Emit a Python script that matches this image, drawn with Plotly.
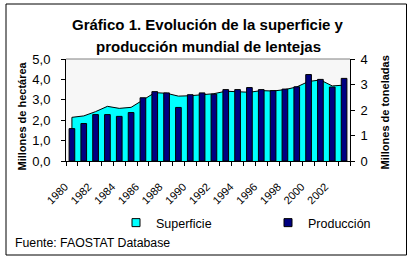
import plotly.graph_objects as go

years = list(range(1980, 2004))
superficie = [2.14, 2.21, 2.42, 2.68, 2.58, 2.63, 3.00, 3.35, 3.32, 3.18, 3.20, 3.25,
              3.30, 3.42, 3.38, 3.37, 3.45, 3.43, 3.50, 3.63, 3.90, 3.97, 3.68, 3.72]
produccion = [1.27, 1.47, 1.82, 1.82, 1.75, 1.90, 2.48, 2.72, 2.67, 2.10, 2.60, 2.67,
              2.62, 2.80, 2.80, 2.88, 2.80, 2.76, 2.82, 2.91, 3.39, 3.20, 2.90, 3.24]
tick_years = years[::2][:12]
tick_labels = [str(y) for y in tick_years]
left_ticks = [0, 1, 2, 3, 4, 5]
right_ticks = [0, 1, 2, 3, 4]

W, H = 411, 263
L, R, T, B = 66, 61, 59, 102
PW, PH = W - L - R, H - T - B


def px2x(px):
    return (px - L) / PW


def px2y(py):
    return (H - B - py) / PH


FONT = "Liberation Sans, Arial, sans-serif"

fig = go.Figure()

# area (Superficie) incl. vertical edges
xa = [years[0]] + years + [years[-1]]
ya = [0] + superficie + [0]
fig.add_trace(go.Scatter(x=xa, y=ya, mode="lines", fill="tozeroy",
                         fillcolor="#00FFFF", line=dict(color="#000000", width=1),
                         showlegend=False, hoverinfo="skip", yaxis="y"))
fig.add_trace(go.Bar(x=years, y=produccion, yaxis="y2", width=0.48,
                     marker=dict(color="#000080", line=dict(color="#000000", width=1)),
                     showlegend=False))
# legend entries
fig.add_trace(go.Scatter(x=[None], y=[None], name="Superficie", legend="legend",
                         mode="markers",
                         marker=dict(symbol="square", size=8, color="#00FFFF",
                                     line=dict(color="#000000", width=1))))
fig.add_trace(go.Scatter(x=[None], y=[None], name="Producción", legend="legend2",
                         mode="markers",
                         marker=dict(symbol="square", size=8, color="#000080",
                                     line=dict(color="#000000", width=1))))

leg_common = dict(orientation="h", yanchor="middle", xanchor="left", itemwidth=30,
                  font=dict(size=12.5), bgcolor="rgba(0,0,0,0)")

fig.update_layout(
    width=W, height=H,
    margin=dict(l=L, r=R, t=T, b=B, pad=0),
    paper_bgcolor="white",
    plot_bgcolor="#F7F7F7",
    separators=",.",
    font=dict(family=FONT, size=12, color="black"),
    showlegend=True,
    bargap=0.5,
    legend=dict(x=px2x(116), y=px2y(223), **leg_common),
    legend2=dict(x=px2x(268), y=px2y(223), **leg_common),
    xaxis=dict(range=[1979.5, 2003.5], tickmode="array", tickvals=tick_years,
               ticktext=tick_labels, tickangle=-45, ticks="", showgrid=False,
               zeroline=False, showline=True, linecolor="black", linewidth=1,
               tickfont=dict(size=11), ticklabelstandoff=14, ticklabelshift=-7,
               minor=dict(tickvals=[y - 0.5 for y in years] + [years[-1] + 0.5],
                          ticks="outside", ticklen=4, tickcolor="black", tickwidth=1,
                          showgrid=False)),
    yaxis=dict(range=[0, 5], tickvals=left_ticks, tickformat=".1f", ticks="outside",
               ticklen=4, tickcolor="black", showgrid=False, zeroline=False,
               showline=True, linecolor="black", linewidth=1, tickfont=dict(size=13),
               ticklabelstandoff=8),
    yaxis2=dict(range=[0, 4], tickvals=right_ticks, overlaying="y", side="right",
                ticks="outside", ticklen=4, tickcolor="black", showgrid=False,
                zeroline=False, showline=True, linecolor="black", linewidth=1,
                tickfont=dict(size=13), ticklabelstandoff=3),
)

# top border of plot area
fig.add_shape(type="line", xref="paper", yref="paper", x0=0, x1=1, y0=1, y1=1,
              line=dict(color="#808080", width=1))
# outer frame
fig.add_shape(type="rect", xref="paper", yref="paper", x0=px2x(6), x1=px2x(406.5),
              y0=px2y(255), y1=px2y(4), line=dict(color="black", width=1))

ann = [
    dict(text="<b>Gráfico 1. Evolución de la superficie y</b>", x=px2x(208), y=px2y(24.5),
         font=dict(size=15)),
    dict(text="<b>producción mundial de lentejas</b>", x=px2x(208), y=px2y(46.5),
         font=dict(size=15)),
    dict(text="<b>Millones de hectárea</b>", x=px2x(21.5), y=px2y(116), textangle=-90,
         font=dict(size=11)),
    dict(text="<b>Millones de toneladas</b>", x=px2x(384.5), y=px2y(112), textangle=-90,
         font=dict(size=11)),
]
for a in ann:
    fig.add_annotation(xref="paper", yref="paper", showarrow=False, xanchor="center",
                       yanchor="middle", **a)
fig.add_annotation(text="Fuente: FAOSTAT Database", xref="paper", yref="paper",
                   x=px2x(13), y=px2y(243), xanchor="left", yanchor="middle",
                   showarrow=False, font=dict(size=12.3))

fig.write_html("out.html")
